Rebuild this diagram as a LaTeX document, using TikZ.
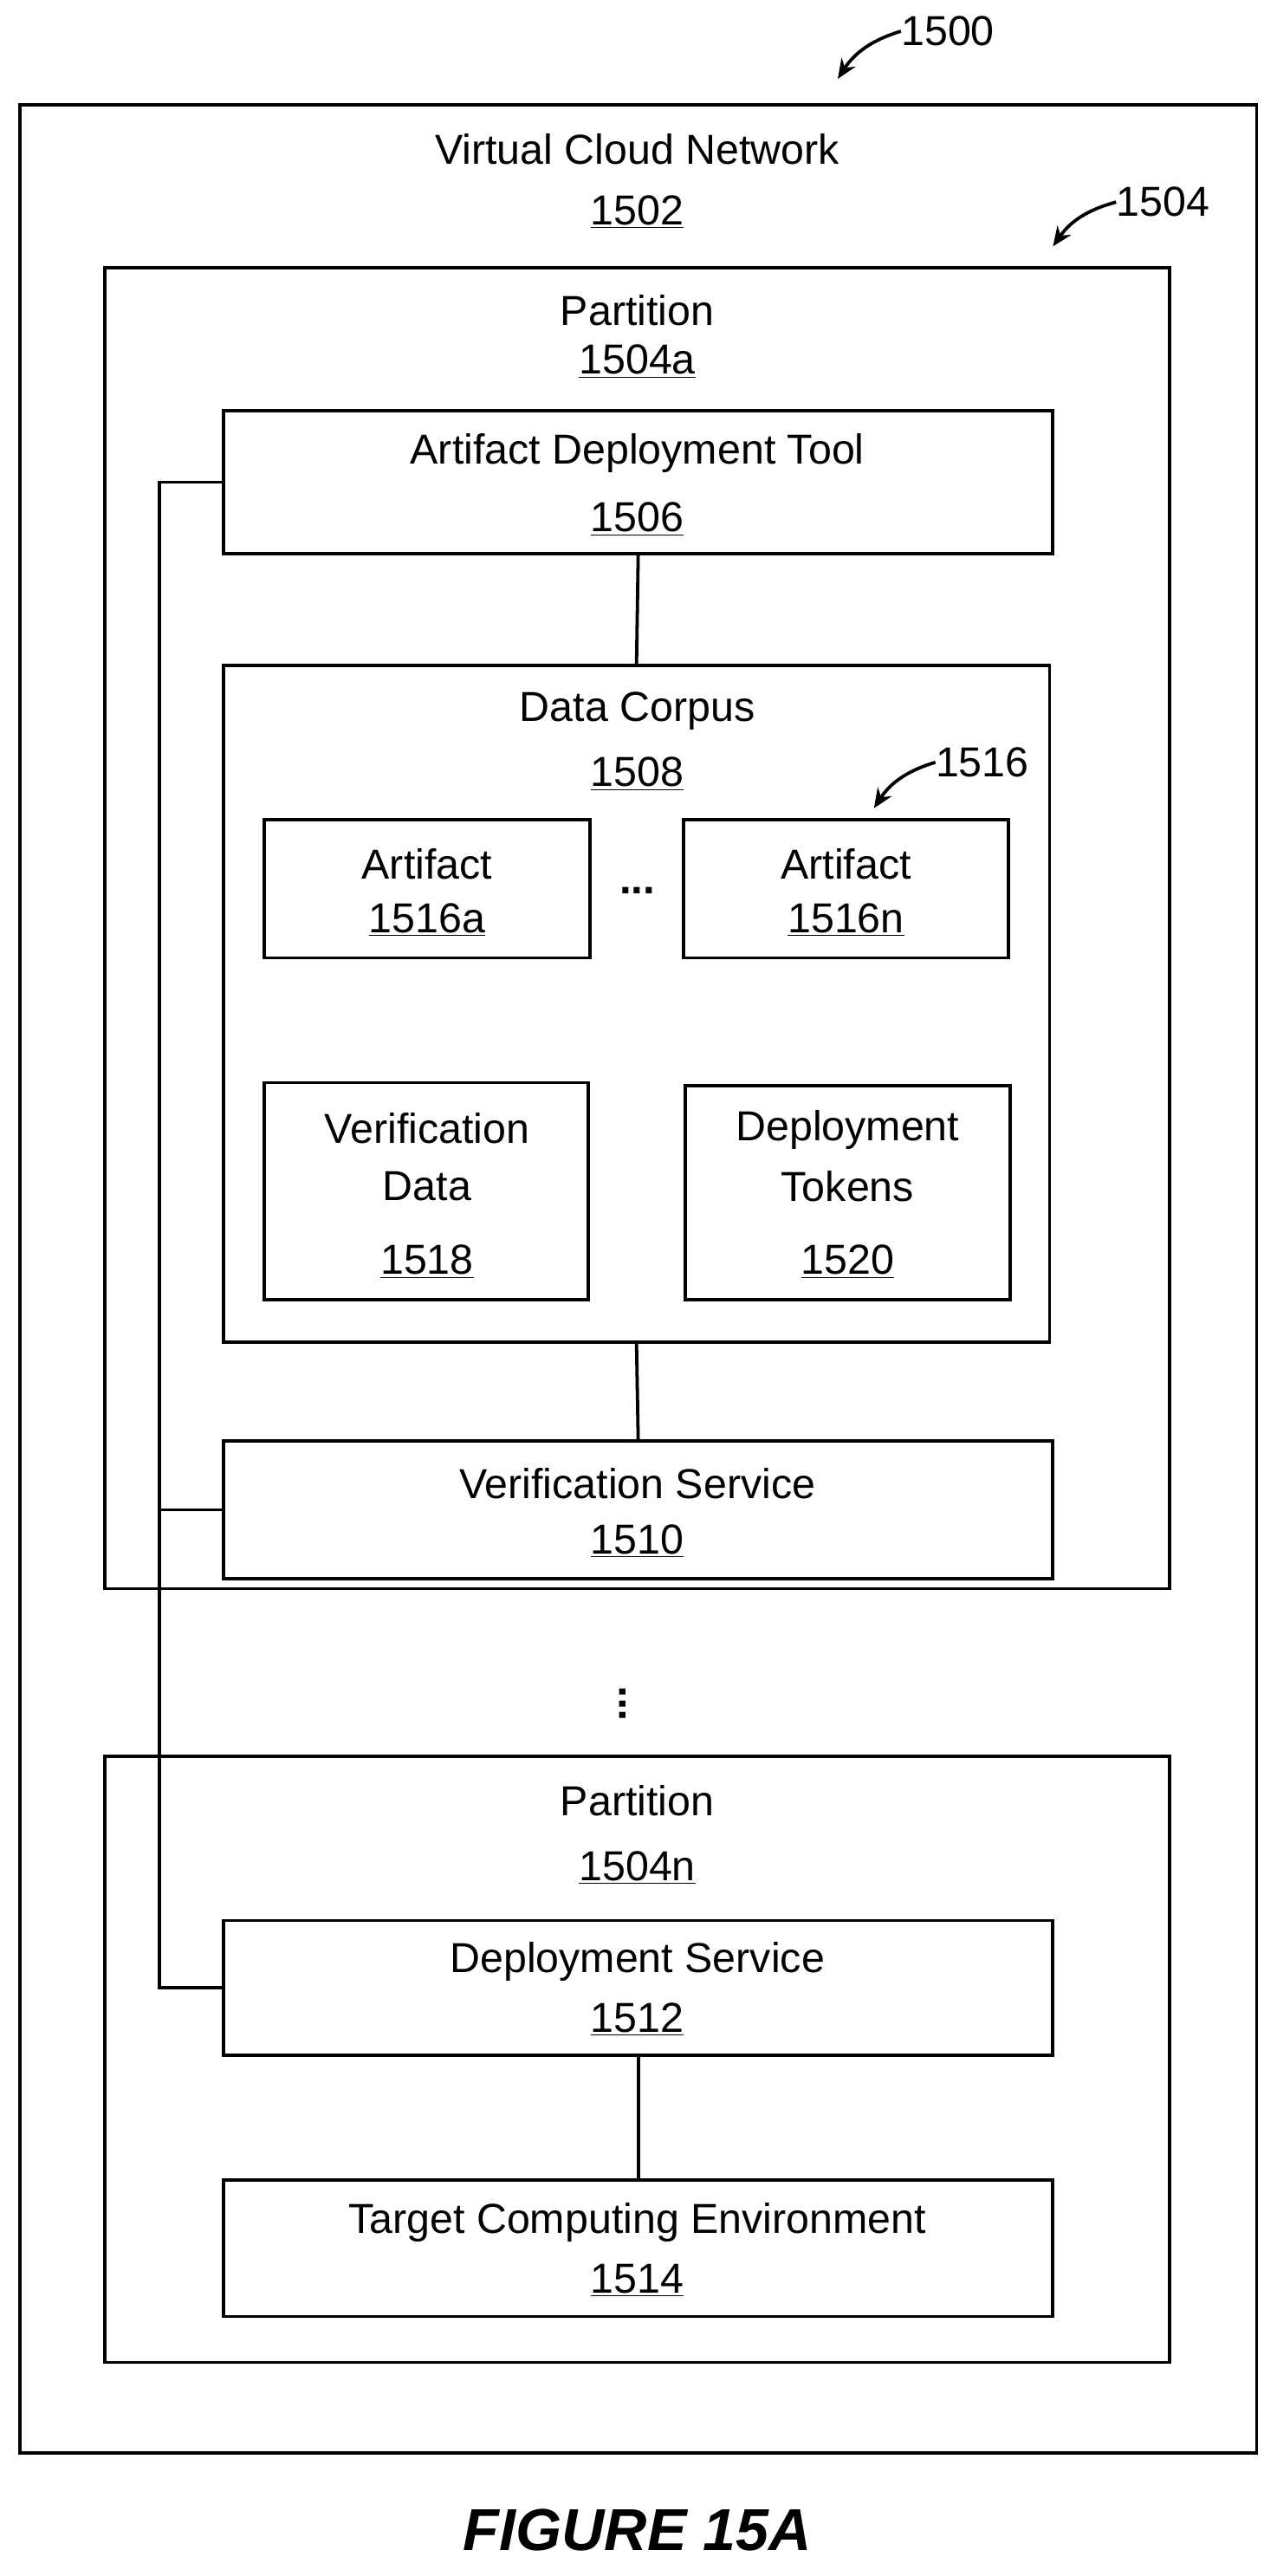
\documentclass[tikz,border=0pt]{standalone}
\usepackage{fontspec}
\setmainfont{Liberation Sans}
\usetikzlibrary{arrows.meta}
\begin{document}
\begin{tikzpicture}[x=1pt,y=-1pt,
  box/.style={draw,line width=2pt},
  lbl/.style={font=\fontsize{25.5}{28}\selectfont,inner sep=0pt},
  ln/.style={line width=2pt},
  arr/.style={line width=2pt,-{Stealth[length=12pt,width=10pt]}}]
\useasboundingbox (0,0) rectangle (777,1568);
% outer
\draw[box] (12,64) rectangle (765,1493);
\node[lbl] (t1502) at (388,91) {Virtual Cloud Network};
\node[lbl] (n1502) at (388,129) {\underline{1502}};
\node[lbl] (n1500) at (577,19) {1500};
\coordinate (a1500) at (510,48);
\draw[arr] (n1500.west) to[bend right=20] (a1500);
% partition a
\draw[box] (64,163) rectangle (712,967);
\node[lbl] (p1) at (388,189) {Partition};
\node[lbl] (n1504a) at (388,220) {\underline{1504a}};
\node[lbl] (n1504) at (708,123) {1504};
\coordinate (a1504) at (641,150);
\draw[arr] (n1504.west) to[bend right=20] (a1504);
% ADT
\node[box,minimum width=505,minimum height=87] (adt) at (388.5,293.5) {};
\node[lbl] at (388,276) {Artifact Deployment Tool};
\node[lbl] at (388,316) {\underline{1506}};
% data corpus
\node[box,minimum width=503,minimum height=412] (dc) at (387.5,611) {};
\node[lbl] at (388,433) {Data Corpus};
\node[lbl] at (388,471) {\underline{1508}};
\node[box,minimum width=198,minimum height=84] (ara) at (260,541) {};
\node[lbl] at (260,526) {Artifact};
\node[lbl] at (260,560) {\underline{1516a}};
\node[lbl,font=\fontsize{26}{28}\selectfont\bfseries] (dots) at (388,542) {...};
\node[box,minimum width=198,minimum height=84] (arn) at (515,541) {};
\node[lbl] at (515,526) {Artifact};
\node[lbl] at (515,560) {\underline{1516n}};
\node[lbl] (n1516) at (598,464) {1516};
\coordinate (a1516) at (532,492);
\draw[arr] (n1516.west) to[bend right=20] (a1516);
\node[box,minimum width=197,minimum height=132] (vd) at (259.5,725) {};
\node[lbl] at (260,687) {Verification};
\node[lbl] at (260,722) {Data};
\node[lbl] at (260,768) {\underline{1518}};
\node[box,minimum width=198,minimum height=130] (dt) at (516,726) {};
\node[lbl] at (516,688) {Deployment};
\node[lbl] at (516,722) {Tokens};
\node[lbl] at (516,768) {\underline{1520}};
% VS
\node[box,minimum width=505,minimum height=84] (vs) at (388.5,919) {};
\node[lbl] at (388,903) {Verification Service};
\node[lbl] at (388,938) {\underline{1510}};
% vdots
\node[lbl,font=\fontsize{26}{28}\selectfont\bfseries] (vdots) at (379,1037) {\rotatebox{90}{...}};
% partition n
\draw[box] (64,1069) rectangle (712,1438);
\node[lbl] at (388,1096) {Partition};
\node[lbl] at (388,1137) {\underline{1504n}};
\node[box,minimum width=505,minimum height=82] (ds) at (388.5,1210) {};
\node[lbl] at (388,1194) {Deployment Service};
\node[lbl] at (388,1229) {\underline{1512}};
\node[box,minimum width=505,minimum height=83] (tce) at (388.5,1368.5) {};
\node[lbl] at (388,1353) {Target Computing Environment};
\node[lbl] at (388,1388) {\underline{1514}};
% connectors
\draw[ln] (adt.south) -- (dc.north);
\draw[ln] (dc.south) -- (vs.north);
\draw[ln] (ds.south) -- (tce.north);
\coordinate (bus) at (97,293.5);
\draw[ln] (adt.west) -- (bus) |- (ds.west);
\draw[ln] (vs.west) -- (bus|-vs.west);
\node[lbl,font=\fontsize{36}{40}\selectfont\bfseries\itshape] (fig) at (388,1540) {FIGURE 15A};
\end{tikzpicture}
\end{document}
